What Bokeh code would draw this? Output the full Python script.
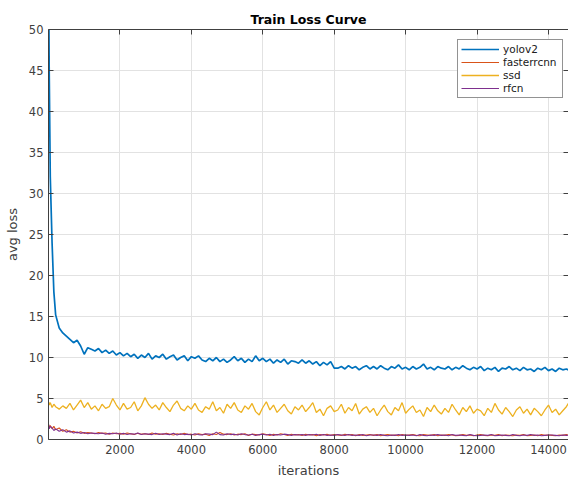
from bokeh.plotting import figure
from bokeh.models import Range1d, LinearAxis, FixedTicker, Legend, LegendItem
from bokeh.embed import file_html
from bokeh.resources import INLINE

# iterations sampled along the curves
iters = [0, 20, 50, 100, 150, 200] + list(range(300, 14700, 100))

yolov2 = [
    60.0, 45.0, 32.0, 24.0, 18.0, 15.2,
    13.6, 13.0, 12.6, 12.2, 11.8, 12.1, 11.4, 10.4, 11.2, 11.0, 10.8, 11.1, 10.6, 10.9, 10.5, 10.8, 10.3, 10.6,
    10.2, 10.5, 10.1, 10.4, 9.9, 10.3, 10.0, 10.5, 9.8, 10.2,
    10.0, 10.4, 9.8, 10.1, 10.3, 9.7, 10.0, 10.2, 9.6, 10.1,
    9.9, 10.2, 9.7, 9.5, 9.9, 9.6, 10.0, 9.5, 9.8, 9.4,
    9.7, 10.1, 9.6, 9.9, 9.4, 9.8, 9.5, 10.2, 9.6, 9.9,
    9.5, 9.8, 9.3, 9.7, 9.4, 9.8, 9.2, 9.6, 9.5, 9.3,
    9.7, 9.3, 9.6, 9.2, 9.5, 9.0, 9.4, 9.1, 9.5, 8.7,
    8.7, 8.9, 8.6, 9.0, 8.7, 8.9, 8.5, 8.8, 9.0, 8.6,
    8.9, 8.6, 9.0, 8.7, 8.5, 8.9, 8.7, 9.1, 8.6, 8.8,
    8.5, 8.9, 8.6, 8.8, 9.2, 8.6, 8.8, 8.5, 8.9, 8.7,
    8.6, 8.9, 8.5, 8.8, 8.6, 9.0, 8.7, 8.5, 8.8, 8.6,
    8.9, 8.4, 8.7, 8.5, 8.8, 8.3, 8.7, 8.6, 8.9, 8.5,
    8.7, 8.4, 8.8, 8.5, 8.6, 8.3, 8.7, 8.5, 8.8, 8.4,
    8.6, 8.3, 8.7, 8.5, 8.6, 8.4,
]

fasterrcnn = [
    1.8, 1.5, 1.7, 1.3, 1.6, 1.2,
    1.4, 1.0, 1.2, 0.9, 1.0, 0.8, 0.95, 0.75, 0.85, 0.8, 0.7, 0.85, 0.75, 0.8, 0.65, 0.8, 0.7, 0.75,
    0.65, 0.8, 0.7, 0.6, 0.75, 0.65, 0.7, 0.6, 0.8, 0.65,
    0.7, 0.6, 0.75, 0.65, 0.55, 0.7, 0.6, 0.75, 0.6, 0.65,
    0.55, 0.7, 0.6, 0.65, 0.5, 0.7, 0.6, 0.85, 0.65, 0.6,
    0.7, 0.55, 0.65, 0.6, 0.7, 0.5, 0.65, 0.6, 0.55, 0.7,
    0.6, 0.5, 0.65, 0.55, 0.7, 0.6, 0.5, 0.65, 0.55, 0.6,
    0.5, 0.65, 0.55, 0.6, 0.45, 0.6, 0.55, 0.65, 0.5, 0.6,
    0.55, 0.5, 0.65, 0.55, 0.6, 0.45, 0.6, 0.5, 0.55, 0.6,
    0.5, 0.6, 0.45, 0.55, 0.6, 0.5, 0.55, 0.45, 0.6, 0.5,
    0.55, 0.6, 0.5, 0.45, 0.6, 0.55, 0.5, 0.6, 0.45, 0.55,
    0.5, 0.6, 0.55, 0.45, 0.5, 0.6, 0.5, 0.55, 0.45, 0.55,
    0.6, 0.5, 0.45, 0.55, 0.5, 0.6, 0.45, 0.55, 0.5, 0.45,
    0.55, 0.5, 0.6, 0.45, 0.5, 0.55, 0.45, 0.6, 0.5, 0.55,
    0.5, 0.45, 0.55, 0.5, 0.6, 0.5,
]

ssd = [
    4.6, 4.2, 4.5, 3.9, 4.3, 4.0,
    3.7, 4.1, 3.8, 4.4, 3.6, 4.2, 4.8, 3.9, 4.5, 3.7, 4.1, 3.5, 4.3, 3.8, 4.0, 5.0, 4.2, 3.6,
    4.4, 3.7, 3.9, 4.6, 3.5, 4.1, 5.1, 4.3, 3.8, 4.2,
    3.6, 4.5, 3.9, 3.4, 4.2, 4.7, 3.8, 3.5, 4.1, 3.7,
    4.4, 3.6, 3.3, 4.0, 3.7, 4.6, 3.5, 3.9, 3.2, 4.3,
    3.8, 4.5, 3.6, 3.3, 4.1, 3.7, 4.4, 3.4, 3.0, 3.9,
    4.6, 3.6, 4.2, 3.3, 3.8, 4.3, 3.5, 3.1, 4.0, 3.6,
    4.2, 3.4, 3.9, 4.5, 3.3, 3.7, 2.9, 3.8, 4.1, 3.4,
    3.6, 4.3, 3.2, 3.9, 3.5, 4.4, 3.1, 3.7, 4.0, 3.3,
    3.8, 2.9, 3.6, 4.2, 3.4, 3.0, 3.9, 3.5, 4.5, 3.2,
    3.7, 4.1, 3.3, 3.6, 2.8, 3.9, 3.4, 4.2, 3.5, 3.1,
    3.8, 3.3, 4.3, 3.6, 3.0, 3.9, 3.4, 4.1, 3.2, 3.7,
    3.5, 2.9, 3.8, 3.3, 4.4, 3.6, 3.1, 3.9, 3.4, 2.8,
    3.6, 4.0, 3.2, 3.7, 3.0, 3.8, 3.4, 2.9, 3.6, 4.2,
    3.3, 3.7, 3.0, 3.5, 4.0, 4.7,
]

rfcn = [
    1.9, 1.3, 1.6, 1.4, 1.1, 1.3,
    1.0, 1.2, 0.9, 1.05, 0.8, 0.9, 0.75, 0.85, 0.7, 0.8, 0.75, 0.7, 0.8, 0.65, 0.75, 0.7, 0.8, 0.65,
    0.75, 0.6, 0.7, 0.65, 0.8, 0.6, 0.7, 0.65, 0.6, 0.75,
    0.6, 0.7, 0.65, 0.6, 0.75, 0.55, 0.7, 0.6, 0.65, 0.55,
    0.7, 0.6, 0.55, 0.7, 0.65, 0.6, 0.9, 0.6, 0.55, 0.7,
    0.6, 0.65, 0.55, 0.7, 0.6, 0.55, 0.65, 0.5, 0.6, 0.65,
    0.55, 0.65, 0.5, 0.6, 0.55, 0.65, 0.6, 0.5, 0.6, 0.55,
    0.6, 0.5, 0.6, 0.55, 0.65, 0.5, 0.6, 0.5, 0.55, 0.5,
    0.6, 0.55, 0.5, 0.6, 0.5, 0.55, 0.5, 0.6, 0.45, 0.55,
    0.55, 0.5, 0.6, 0.5, 0.45, 0.55, 0.5, 0.6, 0.5, 0.55,
    0.5, 0.55, 0.45, 0.6, 0.5, 0.45, 0.55, 0.5, 0.6, 0.5,
    0.55, 0.45, 0.6, 0.5, 0.55, 0.5, 0.45, 0.6, 0.5, 0.45,
    0.5, 0.55, 0.5, 0.6, 0.45, 0.5, 0.55, 0.5, 0.45, 0.6,
    0.5, 0.45, 0.55, 0.5, 0.6, 0.5, 0.55, 0.45, 0.5, 0.55,
    0.55, 0.5, 0.45, 0.55, 0.5, 0.55,
]

series_names = ["yolov2", "fasterrcnn", "ssd", "rfcn"]
series_colors = ["#0072BD", "#D95319", "#EDB120", "#7E2F8E"]
x_ticks = [2000, 4000, 6000, 8000, 10000, 12000, 14000]
y_ticks = [0, 5, 10, 15, 20, 25, 30, 35, 40, 45, 50]

FONT = "DejaVu Sans"
AX = "#404040"

p = figure(width=568, height=480, output_backend="svg", toolbar_location=None,
           x_range=Range1d(0, 14560), y_range=Range1d(0, 50),
           min_border_left=48, min_border_right=0, min_border_top=29, min_border_bottom=40,
           title="Train Loss Curve", x_axis_label="iterations", y_axis_label="avg loss",
           outline_line_color=None)

p.title.text_font = FONT
p.title.text_font_size = "12.5px"
p.title.text_font_style = "bold"
p.title.text_color = "#000000"
p.title.align = "center"
p.title.standoff = 6

for ax in (p.xaxis[0], p.yaxis[0]):
    ax.axis_label_text_font = FONT
    ax.axis_label_text_font_size = "13px"
    ax.axis_label_text_font_style = "normal"
    ax.axis_label_text_color = AX
    ax.major_label_text_font = FONT
    ax.major_label_text_font_size = "11.5px"
    ax.major_label_text_color = AX
    ax.axis_line_color = AX
    ax.major_tick_line_color = AX
    ax.major_tick_in = 5
    ax.major_tick_out = 0
    ax.minor_tick_line_color = None

p.xaxis[0].ticker = FixedTicker(ticks=x_ticks)
p.yaxis[0].ticker = FixedTicker(ticks=y_ticks)
p.xaxis[0].major_label_standoff = 5
p.xaxis[0].axis_label_standoff = 6
p.yaxis[0].major_label_standoff = 5
p.yaxis[0].axis_label_standoff = 6

for loc, tk in (("above", x_ticks), ("right", y_ticks)):
    a = LinearAxis(ticker=FixedTicker(ticks=tk))
    a.major_label_text_font_size = "1px"
    a.major_label_text_color = None
    a.major_label_standoff = 0
    a.axis_line_color = AX
    a.major_tick_line_color = AX
    a.major_tick_in = 5
    a.major_tick_out = 0
    a.minor_tick_line_color = None
    p.add_layout(a, loc)

p.xgrid.ticker = FixedTicker(ticks=x_ticks)
p.ygrid.ticker = FixedTicker(ticks=y_ticks)
p.xgrid.grid_line_color = "#e2e2e2"
p.ygrid.grid_line_color = "#e2e2e2"

data = [yolov2, fasterrcnn, ssd, rfcn]
widths = [1.7, 1.1, 1.3, 1.1]
items = []
for name, col, ys, w in zip(series_names, series_colors, data, widths):
    r = p.line(iters, ys, line_color=col, line_width=w)
    items.append(LegendItem(label=name, renderers=[r]))

leg = Legend(items=items, location=(409, 341))
leg.label_text_font = FONT
leg.label_text_font_size = "10.5px"
leg.label_text_color = "#202020"
leg.glyph_width = 38
leg.glyph_height = 12
leg.label_height = 12
leg.label_width = 56
leg.label_standoff = 4
leg.spacing = 1
leg.padding = 3
leg.margin = 0
leg.border_line_color = "#262626"
leg.border_line_width = 1
leg.background_fill_color = "white"
leg.background_fill_alpha = 1
p.add_layout(leg, "center")

open("out.html", "w").write(file_html(p, INLINE))
